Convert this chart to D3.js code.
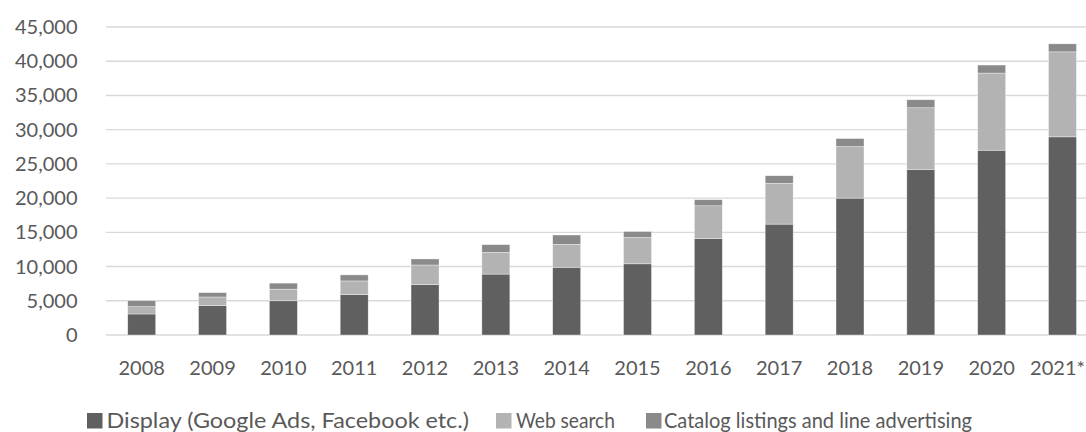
<!DOCTYPE html>
<html>
<head>
<meta charset="utf-8">
<script src="https://cdn.jsdelivr.net/npm/d3@7"></script>
<style>
  html, body { margin: 0; padding: 0; background: #fff; overflow: hidden; }
  svg { display: block; }
  text { font-family: Lato, "Open Sans", sans-serif; fill: #595959; }
</style>
</head>
<body>
<svg id="chart" width="1086" height="432"></svg>
<script>
const categories = ["2008","2009","2010","2011","2012","2013","2014","2015","2016","2017","2018","2019","2020","2021*"];
const display = [3070, 4285, 5000, 5900, 7350, 8900, 9900, 10400, 14100, 16200, 20000, 24200, 27000, 28950];
const webSearch = [1070, 1270, 1700, 2000, 2880, 3180, 3350, 3850, 4780, 5960, 7530, 9000, 11270, 12420];
const catalog = [875, 630, 880, 880, 880, 1120, 1360, 870, 880, 1110, 1170, 1170, 1170, 1170];
const yTicks = [0, 5000, 10000, 15000, 20000, 25000, 30000, 35000, 40000, 45000];
const seriesNames = ["Display (Google Ads, Facebook etc.)", "Web search", "Catalog listings and line advertising"];
const seriesColors = ["#606060", "#b3b3b3", "#8a8a8a"];

const svg = d3.select("#chart");

const x = d3.scaleBand().domain(categories).range([106.3, 1097.9]).paddingInner(0.605).paddingOuter(0.3025);
const y = d3.scaleLinear().domain([0, 45000]).range([335, 27]);

// gridlines
svg.append("g").selectAll("line").data(yTicks).join("line")
  .attr("x1", 106).attr("x2", 1086)
  .attr("y1", d => y(d)).attr("y2", d => y(d))
  .attr("stroke", "#d9d9d9").attr("stroke-width", 1.4);

// y labels
const fmt = d3.format(",");
svg.append("g").selectAll("text").data(yTicks).join("text")
  .attr("x", 77.5).attr("y", d => y(d)).attr("dy", "0.35em")
  .attr("text-anchor", "end").style("font-size", "20px")
  .text(d => fmt(d));

// stacked data
const rows = categories.map((c, i) => ({ cat: c, s0: display[i], s1: webSearch[i], s2: catalog[i] }));
const stack = d3.stack().keys(["s0", "s1", "s2"])(rows);

svg.append("g").selectAll("g").data(stack).join("g")
  .attr("fill", (d, i) => seriesColors[i])
  .selectAll("rect").data(d => d).join("rect")
  .attr("x", d => x(d.data.cat))
  .attr("width", x.bandwidth())
  .attr("y", d => y(d[1]))
  .attr("height", d => y(d[0]) - y(d[1]))
  .attr("stroke", "#ffffff").attr("stroke-width", 0.6).attr("stroke-opacity", 0.6);

// x labels (kept inside the right edge)
svg.append("g").selectAll("text").data(categories).join("text")
  .attr("x", d => x(d) + x.bandwidth() / 2).attr("y", 375)
  .attr("text-anchor", "middle").style("font-size", "20px")
  .text(d => d)
  .each(function (d) {
    const w = this.getComputedTextLength();
    const cx = x(d) + x.bandwidth() / 2;
    if (cx + w / 2 > 1085) d3.select(this).attr("x", 1085 - w / 2);
  });

// legend
const legendItems = [
  { sx: 87, tx: 106.5, w: 362.5 },
  { sx: 496, tx: 516, w: 99 },
  { sx: 646, tx: 664, w: 308 }
];
const lg = svg.append("g");
legendItems.forEach((it, i) => {
  lg.append("rect").attr("x", it.sx).attr("y", 413).attr("width", 15.5).attr("height", 15.5)
    .attr("fill", seriesColors[i]);
  lg.append("text").attr("x", it.tx).attr("y", 427.5)
    .style("font-size", "21.5px")
    .attr("textLength", it.w).attr("lengthAdjust", "spacingAndGlyphs")
    .text(seriesNames[i]);
});
</script>
</body>
</html>
